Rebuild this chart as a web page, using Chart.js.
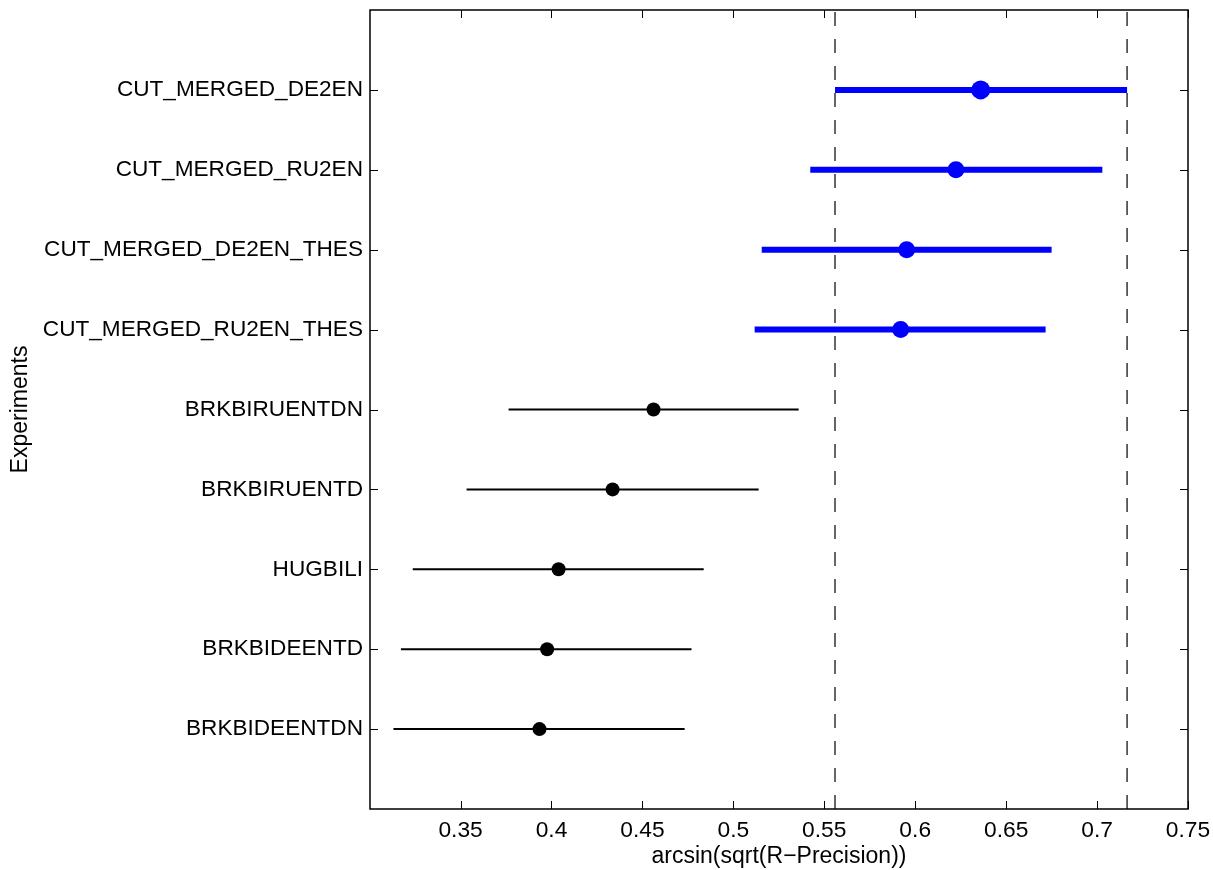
<!DOCTYPE html>
<html>
<head>
<meta charset="utf-8">
<script src="https://cdn.jsdelivr.net/npm/chart.js@4/dist/chart.umd.min.js"></script>
<style>
  html, body { margin: 0; padding: 0; background: #fff; }
  #wrap { width: 1213px; height: 870px; }
</style>
</head>
<body>
<div id="wrap"><canvas id="chart" width="1213" height="870"></canvas></div>
<script>
// experiments, top to bottom
const EXPERIMENTS = ['CUT_MERGED_DE2EN', 'CUT_MERGED_RU2EN', 'CUT_MERGED_DE2EN_THES', 'CUT_MERGED_RU2EN_THES',
  'BRKBIRUENTDN', 'BRKBIRUENTD', 'HUGBILI', 'BRKBIDEENTD', 'BRKBIDEENTDN']
const MEANS = [0.636, 0.6224, 0.5953, 0.592, 0.4561, 0.4336, 0.4039, 0.3976, 0.3934]
const LOWER = [0.5559, 0.5423, 0.5156, 0.5117, 0.3764, 0.3533, 0.3237, 0.3172, 0.3131]
const UPPER = [0.7165, 0.7029, 0.675, 0.6717, 0.5359, 0.5139, 0.4837, 0.477, 0.4732]
const GROUP = ['sel', 'hi', 'hi', 'hi', 'lo', 'lo', 'lo', 'lo', 'lo']
const X_TICKS = [0.35, 0.4, 0.45, 0.5, 0.55, 0.6, 0.65, 0.7, 0.75]
const REF_LINES = [LOWER[0], UPPER[0]]

const FONT = 'Liberation Sans, Arial, Helvetica, sans-serif'
const n = EXPERIMENTS.length
const yOf = i => n - i   // top row at y = 9

const intervalSets = EXPERIMENTS.map((name, i) => ({
  label: name,
  data: [{ x: LOWER[i], y: yOf(i) }, { x: UPPER[i], y: yOf(i) }],
  showLine: true,
  borderColor: GROUP[i] === 'lo' ? '#000' : '#0000ff',
  borderWidth: GROUP[i] === 'lo' ? 2 : 6,
  pointRadius: 0,
  order: 1,
}))

const refSets = REF_LINES.map(v => ({
  label: 'ref',
  data: [{ x: v, y: 0 }, { x: v, y: n + 1 }],
  showLine: true,
  borderColor: '#333',
  borderWidth: 1.5,
  borderDash: [14, 13],
  pointRadius: 0,
  order: 2,
}))

const meanSet = {
  label: 'mean',
  data: MEANS.map((m, i) => ({ x: m, y: yOf(i) })),
  pointRadius: GROUP.map(g => g === 'sel' ? 9.5 : g === 'hi' ? 8.5 : 7),
  pointBackgroundColor: GROUP.map(g => g === 'lo' ? '#000' : '#0000ff'),
  pointBorderWidth: 0,
  order: 0,
}

// MATLAB style box with inward ticks
const boxPlugin = {
  id: 'box',
  afterDraw(chart) {
    const { ctx, chartArea: a, scales } = chart
    ctx.save()
    ctx.strokeStyle = '#000'
    ctx.lineWidth = 1
    X_TICKS.forEach(v => {
      const x = Math.round(scales.x.getPixelForValue(v)) + 0.5
      ctx.beginPath()
      ctx.moveTo(x, a.bottom); ctx.lineTo(x, a.bottom - 8)
      ctx.moveTo(x, a.top); ctx.lineTo(x, a.top + 8)
      ctx.stroke()
    })
    EXPERIMENTS.forEach((_, i) => {
      const y = Math.round(scales.y.getPixelForValue(yOf(i))) + 0.5
      ctx.beginPath()
      ctx.moveTo(a.left, y); ctx.lineTo(a.left + 8, y)
      ctx.moveTo(a.right, y); ctx.lineTo(a.right - 8, y)
      ctx.stroke()
    })
    ctx.lineWidth = 1.5
    ctx.strokeRect(a.left, a.top, a.right - a.left, a.bottom - a.top)
    ctx.restore()
  },
}

new Chart(document.getElementById('chart'), {
  type: 'scatter',
  data: { datasets: [meanSet, ...intervalSets, ...refSets] },
  options: {
    responsive: false,
    animation: false,
    events: [],
    layout: { padding: { top: 10, right: 25, left: 0, bottom: 0 } },
    plugins: { legend: { display: false }, tooltip: { enabled: false } },
    scales: {
      x: {
        type: 'linear',
        min: 0.3002,
        max: 0.75,
        afterBuildTicks: s => { s.ticks = X_TICKS.map(v => ({ value: v })) },
        afterFit: s => { s.height = 61; s.paddingLeft = 0; s.paddingRight = 0 },
        grid: { display: false, drawTicks: false },
        border: { display: false },
        ticks: {
          color: '#000',
          font: { family: FONT, size: 22.8 },
          padding: 8,
          maxRotation: 0,
          callback: v => String(+v.toFixed(2)),
        },
        title: {
          display: true,
          text: 'arcsin(sqrt(R\u2212Precision))',
          color: '#000',
          font: { family: FONT, size: 23 },
          padding: { top: 0, bottom: 0 },
        },
      },
      y: {
        type: 'linear',
        min: 0,
        max: n + 1,
        afterBuildTicks: s => { s.ticks = EXPERIMENTS.map((_, i) => ({ value: yOf(i) })) },
        afterFit: s => { s.width = 370; s.paddingTop = 0; s.paddingBottom = 0 },
        grid: { display: false, drawTicks: false },
        border: { display: false },
        ticks: {
          color: '#000',
          font: { family: FONT, size: 22.6 },
          padding: 7,
          callback: v => EXPERIMENTS[n - v],
        },
        title: {
          display: true,
          text: 'Experiments',
          color: '#000',
          font: { family: FONT, size: 23 },
          padding: { top: 7, bottom: 0 },
        },
      },
    },
  },
  plugins: [boxPlugin],
})
</script>
</body>
</html>
